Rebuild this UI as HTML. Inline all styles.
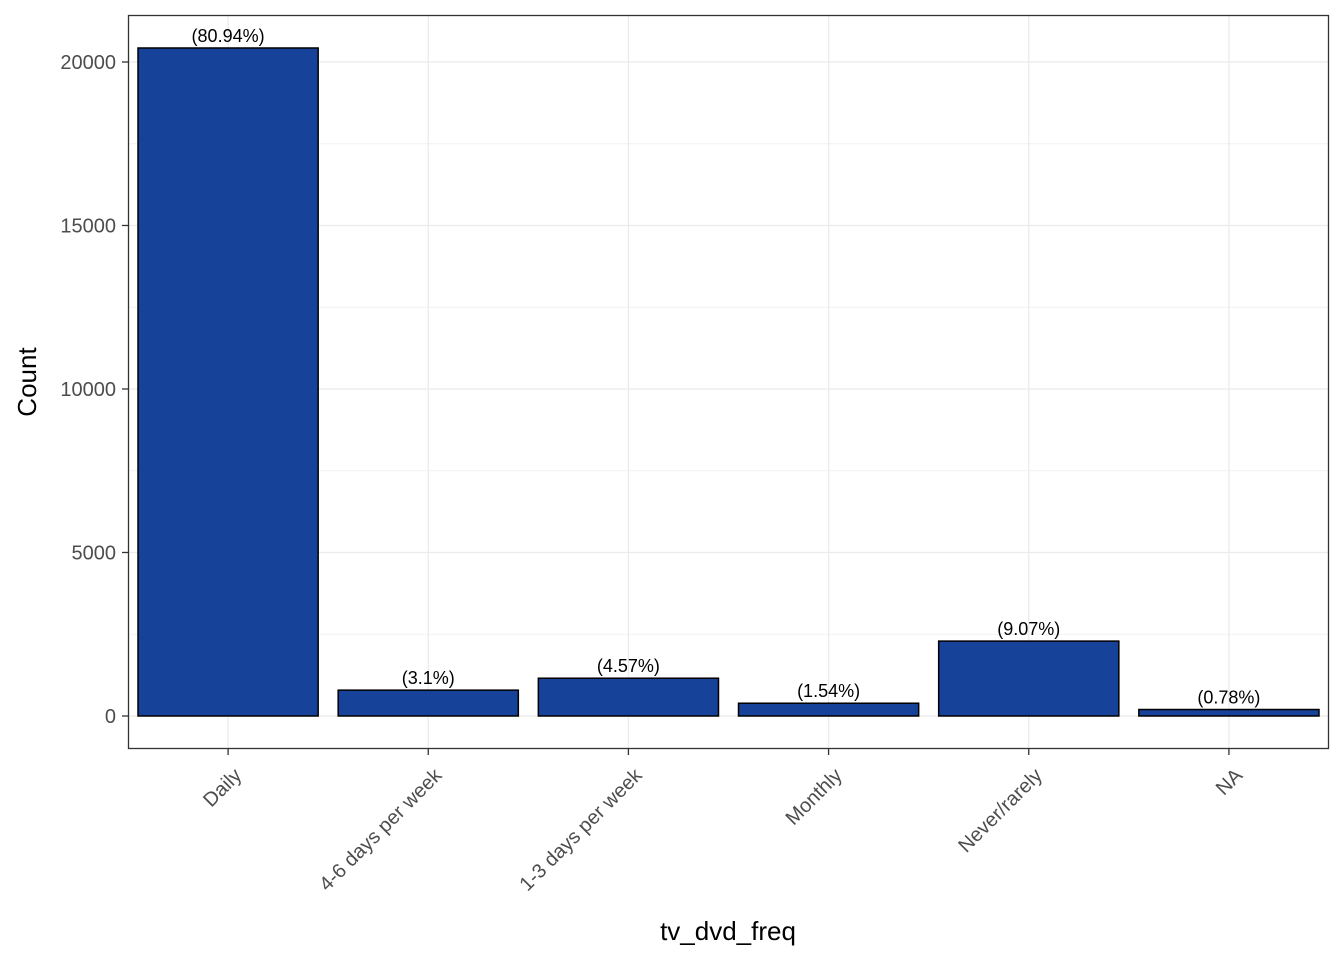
<!DOCTYPE html>
<html><head><meta charset="utf-8"><style>
body{margin:0;background:#fff}
svg{display:block;font-family:"Liberation Sans",Arial,sans-serif}
</style></head><body>
<svg id="chart" width="1344" height="960">
<rect x="0" y="0" width="1344" height="960" fill="#fff"/>
<g id="grid"></g>
<g id="bars"></g>
<rect x="128.5" y="15.5" width="1200" height="733" fill="none" stroke="#333" stroke-width="1.3"/>
<g id="axes"></g>
<text x="728" y="940" text-anchor="middle" font-size="26" fill="#000">tv_dvd_freq</text>
<text transform="translate(36,382) rotate(-90)" text-anchor="middle" font-size="26" fill="#000">Count</text>
</svg>
<script>
const categories=["Daily","4-6 days per week","1-3 days per week","Monthly","Never/rarely","NA"];
const counts=[20428,790,1155,390,2290,198];
const pctLabels=["(80.94%)","(3.1%)","(4.57%)","(1.54%)","(9.07%)","(0.78%)"];
const yTicks=[0,5000,10000,15000,20000];
const NS="http://www.w3.org/2000/svg";
const L=128,R=1329,T=15,B=748;
const yMin=-979,yMax=21437;
function y(v){return B-(v-yMin)/(yMax-yMin)*(B-T);}
const step=(R-L)/categories.length;
function x(i){return L+step*(i+0.5);}
const bw=step*0.9;
function mk(tag,attrs,parent){const e=document.createElementNS(NS,tag);for(const k in attrs)e.setAttribute(k,attrs[k]);parent.appendChild(e);return e;}
const grid=document.getElementById('grid'),bars=document.getElementById('bars'),axes=document.getElementById('axes');
// minor grid
for(let i=0;i<yTicks.length-1;i++){const v=(yTicks[i]+yTicks[i+1])/2;const g=mk('line',{x1:L,x2:R,y1:y(v),y2:y(v),stroke:'#f1f1f1','stroke-width':1},grid);

}
yTicks.forEach(v=>{const g=mk('line',{x1:L,x2:R,y1:y(v),y2:y(v),stroke:'#ebebeb','stroke-width':1.3},grid);


const t=mk('line',{x1:L-6,x2:L,y1:y(v),y2:y(v),stroke:'#333','stroke-width':1.3},axes);


const l=mk('text',{x:L-12,y:y(v)+7,'text-anchor':'end','font-size':20,fill:'#4d4d4d'},axes);l.textContent=v;

});
categories.forEach((c,i)=>{const g=mk('line',{x1:x(i),x2:x(i),y1:T,y2:B,stroke:'#ebebeb','stroke-width':1.3},grid);


const b=mk('rect',{x:x(i)-bw/2,y:y(counts[i]),width:bw,height:y(0)-y(counts[i]),fill:'#174299',stroke:'#000','stroke-width':1.5},bars);


const p=mk('text',{x:x(i),y:y(counts[i])-6,'text-anchor':'middle','font-size':18,fill:'#000'},bars);p.textContent=pctLabels[i];


const t=mk('line',{x1:x(i),x2:x(i),y1:B,y2:B+7,stroke:'#333','stroke-width':1.3},axes);


const l=mk('text',{transform:`translate(${x(i)+4},${B+18}) rotate(-45)`,dy:'0.75em','text-anchor':'end','font-size':20,fill:'#4d4d4d'},axes);l.textContent=c;

});
</script>
</body></html>
